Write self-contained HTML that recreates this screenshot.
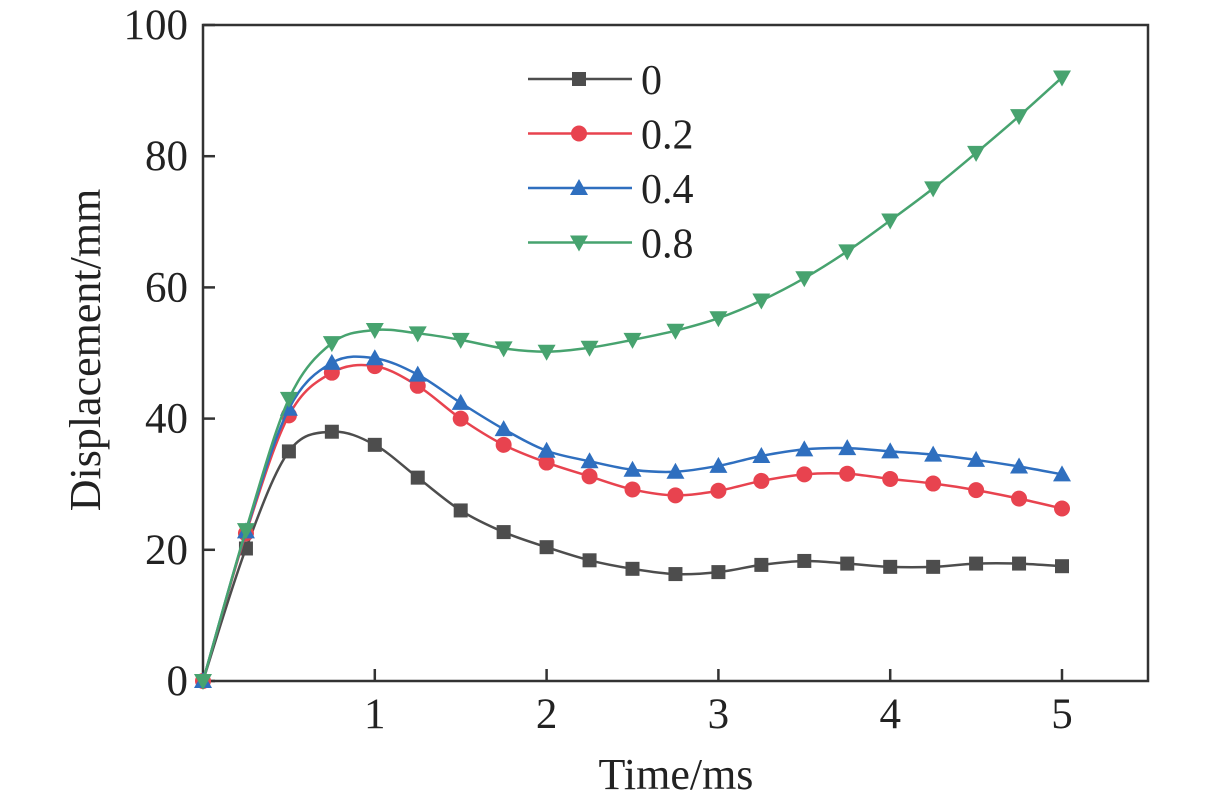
<!DOCTYPE html>
<html><head><meta charset="utf-8"><style>
body{margin:0;background:#fff;}
svg{display:block;font-family:"Liberation Serif",serif;}
</style></head><body>
<svg id="chart" width="1228" height="806" viewBox="0 0 1228 806" xmlns="http://www.w3.org/2000/svg">
<rect x="203" y="25" width="945" height="656" fill="none" stroke="#333" stroke-width="2.5"/>
<g id="axes"></g><g id="series"></g><g id="legend"></g>
<text x="676" y="789" font-size="44" text-anchor="middle" fill="#222">Time/ms</text>
<text transform="translate(100,350) rotate(-90)" font-size="44" text-anchor="middle" fill="#222">Displacement/mm</text>
</svg>
<script>
const times=[0,0.25,0.5,0.75,1,1.25,1.5,1.75,2,2.25,2.5,2.75,3,3.25,3.5,3.75,4,4.25,4.5,4.75,5];
const s0=[0,20.2,35,38,36,31,26,22.7,20.4,18.4,17.1,16.3,16.6,17.7,18.3,17.9,17.4,17.4,17.9,17.9,17.5];
const s02=[0,22.5,40.5,47,48,45,40,36,33.3,31.2,29.2,28.3,29,30.5,31.5,31.6,30.8,30.1,29.1,27.8,26.3];
const s04=[0,22.8,41.5,48.5,49.2,46.7,42.4,38.4,35.1,33.5,32.2,31.9,32.8,34.3,35.3,35.5,35,34.5,33.7,32.7,31.5];
const s08=[0,23,43,51.5,53.5,53,52,50.7,50.2,50.8,52,53.4,55.3,58,61.4,65.5,70.2,75.1,80.5,86.1,92];
const seriesNames=["0","0.2","0.4","0.8"];
const xTicks=[1,2,3,4,5];
const yTicks=[0,20,40,60,80,100];
const NS="http://www.w3.org/2000/svg";
const X=v=>203+v*171.8, Y=v=>681-v*6.56;
function mk(t,a,p){const e=document.createElementNS(NS,t);for(const k in a)e.setAttribute(k,a[k]);p.appendChild(e);return e;}
const axes=document.getElementById('axes');
xTicks.forEach(t=>{
 const l=mk('line',{x1:X(t),x2:X(t),y1:681,y2:669,stroke:'#333','stroke-width':2.5},axes);
 
 
 const tx=mk('text',{x:X(t),y:728,'font-size':43,'text-anchor':'middle',fill:'#222'},axes);tx.textContent=t;
 
 
});
yTicks.forEach(t=>{
 const l=mk('line',{x1:203,x2:215,y1:Y(t),y2:Y(t),stroke:'#333','stroke-width':2.5},axes);
 
 
 const tx=mk('text',{x:188,y:Y(t)+14,'font-size':43,'text-anchor':'end',fill:'#222'},axes);tx.textContent=t;
 
 
});
const colors=['#4d4d4d','#e8434f','#2f6fbf','#47a36f'];
const types=['square','circle','up','down'];
function marker(g,type,x,y,c){
 let e;
 if(type==='square')e=mk('rect',{x:x-7,y:y-7,width:14,height:14,fill:c},g);
 else if(type==='circle')e=mk('circle',{cx:x,cy:y,r:8,fill:c},g);
 else if(type==='up')e=mk('polygon',{points:`${x},${y-9} ${x-9},${y+7} ${x+9},${y+7}`,fill:c},g);
 else e=mk('polygon',{points:`${x},${y+9} ${x-9},${y-7} ${x+9},${y-7}`,fill:c},g);
 return e;
}
function smooth(pts){
 let d=`M${pts[0][0]},${pts[0][1]}`;
 for(let i=0;i<pts.length-1;i++){
  const p0=pts[Math.max(0,i-1)],p1=pts[i],p2=pts[i+1],p3=pts[Math.min(pts.length-1,i+2)];
  const c1=[p1[0]+(p2[0]-p0[0])/6,p1[1]+(p2[1]-p0[1])/6],c2=[p2[0]-(p3[0]-p1[0])/6,p2[1]-(p3[1]-p1[1])/6];
  d+=`C${c1[0]},${c1[1]} ${c2[0]},${c2[1]} ${p2[0]},${p2[1]}`;
 }
 return d;
}
const sg=document.getElementById('series');
[s0,s02,s04,s08].forEach((vals,i)=>{
 const g=mk('g',{},sg);
 
 
 const pts=vals.map((v,j)=>[X(times[j]),Y(v)]);
 const p=mk('path',{d:smooth(pts),fill:'none',stroke:colors[i],'stroke-width':2.5},g);
 
 
 pts.forEach(q=>{const m=marker(g,types[i],q[0],q[1],colors[i]);
  
  });
});
const lg=document.getElementById('legend');
seriesNames.forEach((n,i)=>{
 const y=79+i*54.5;
 const g=mk('g',{},lg);
 
 
 mk('line',{x1:528,x2:632,y1:y,y2:y,stroke:colors[i],'stroke-width':2.5},g);
 marker(g,types[i],579,y,colors[i]);
 const t=mk('text',{x:641,y:y+15,'font-size':42,fill:'#222'},g);t.textContent=n;
});
</script>
</body></html>
